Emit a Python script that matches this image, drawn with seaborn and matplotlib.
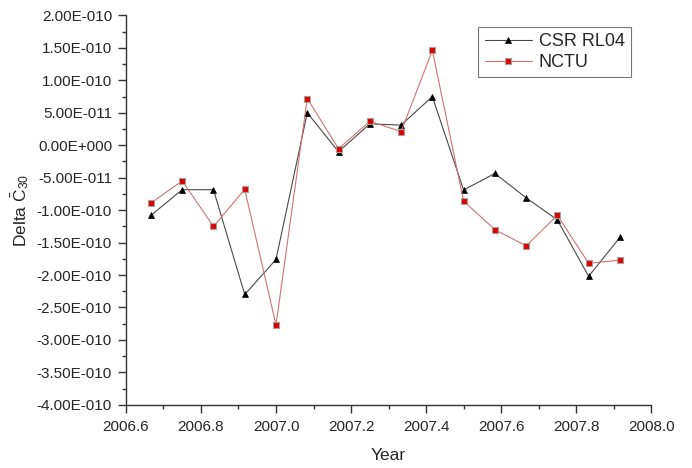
import numpy as np
import pandas as pd
import matplotlib
matplotlib.use("Agg")
import matplotlib.pyplot as plt
from matplotlib.ticker import FuncFormatter, MultipleLocator
import seaborn as sns

# Monthly epochs (decimal year) and C30 deltas for the two solutions
years = [2006 + m / 12 for m in range(8, 24)]
csr_rl04 = [-1.08e-10, -0.685e-10, -0.685e-10, -2.30e-10, -1.76e-10, 0.50e-10,
            -0.10e-10, 0.33e-10, 0.31e-10, 0.75e-10, -0.69e-10, -0.435e-10,
            -0.81e-10, -1.15e-10, -2.02e-10, -1.42e-10]
nctu = [-0.89e-10, -0.55e-10, -1.25e-10, -0.68e-10, -2.77e-10, 0.72e-10,
        -0.055e-10, 0.37e-10, 0.21e-10, 1.46e-10, -0.86e-10, -1.30e-10,
        -1.55e-10, -1.08e-10, -1.82e-10, -1.77e-10]
series_names = ["CSR RL04", "NCTU"]

sns.set_style("ticks")
plt.rcParams["font.family"] = ["Liberation Sans", "DejaVu Sans"]
plt.rcParams["mathtext.fontset"] = "custom"
plt.rcParams["mathtext.rm"] = "Liberation Sans"
plt.rcParams["mathtext.it"] = "Liberation Sans"

df = pd.DataFrame({"Year": years, "CSR RL04": csr_rl04, "NCTU": nctu})

fig = plt.figure(figsize=(6.92, 4.68), dpi=100)
ax = fig.add_axes([0.182, 0.135, 0.759, 0.832])

sns.lineplot(data=df, x="Year", y="CSR RL04", ax=ax, color="#4a4a4a",
             linewidth=0.8, marker="^", markersize=4.5, markerfacecolor="black",
             markeredgecolor="black", markeredgewidth=0.5, label=series_names[0])
sns.lineplot(data=df, x="Year", y="NCTU", ax=ax, color="#d07272",
             linewidth=0.8, marker="s", markersize=4.5, markerfacecolor="#e00000",
             markeredgecolor="#a0a0a0", markeredgewidth=0.8, label=series_names[1])

ax.set_xlim(2006.6, 2008.0)
ax.set_ylim(-4e-10, 2e-10)
ax.xaxis.set_major_locator(MultipleLocator(0.2))
ax.xaxis.set_minor_locator(MultipleLocator(0.1))
ax.yaxis.set_major_locator(MultipleLocator(0.5e-10))
ax.yaxis.set_minor_locator(MultipleLocator(0.25e-10))


def sci_label(v, pos):
    if abs(v) < 1e-20:
        return "0.00E+000"
    exp = int(np.floor(np.log10(abs(v))))
    mant = v / 10 ** exp
    if abs(round(mant, 2)) >= 10:
        exp += 1
        mant = v / 10 ** exp
    sign = "+" if exp >= 0 else "-"
    return f"{mant:.2f}E{sign}{abs(exp):03d}"


ax.yaxis.set_major_formatter(FuncFormatter(sci_label))
ax.xaxis.set_major_formatter(FuncFormatter(lambda v, p: f"{v:.1f}"))

ax.tick_params(axis="both", which="major", direction="out", length=5.5,
               width=1, labelsize=11, color="#333333", pad=4.5)
ax.tick_params(axis="x", which="major", pad=5.5)
ax.tick_params(axis="both", which="minor", direction="out", length=3,
               width=1, color="#333333")
for side in ("top", "right"):
    ax.spines[side].set_visible(False)
for side in ("left", "bottom"):
    ax.spines[side].set_color("#333333")
    ax.spines[side].set_linewidth(1)

ax.set_xlabel("Year", fontsize=12.5, labelpad=10)
ax.set_ylabel(r"Delta $\bar{\mathrm{C}}_{30}$", fontsize=12.5, labelpad=4)

leg = ax.legend(loc="upper right", bbox_to_anchor=(0.962, 0.97), fontsize=13,
                frameon=True, fancybox=False, edgecolor="#555555",
                handlelength=2.6, borderpad=0.35, labelspacing=0.2,
                handletextpad=0.4, borderaxespad=0)
leg.get_frame().set_linewidth(0.8)

fig.savefig("out.png", dpi=100)
